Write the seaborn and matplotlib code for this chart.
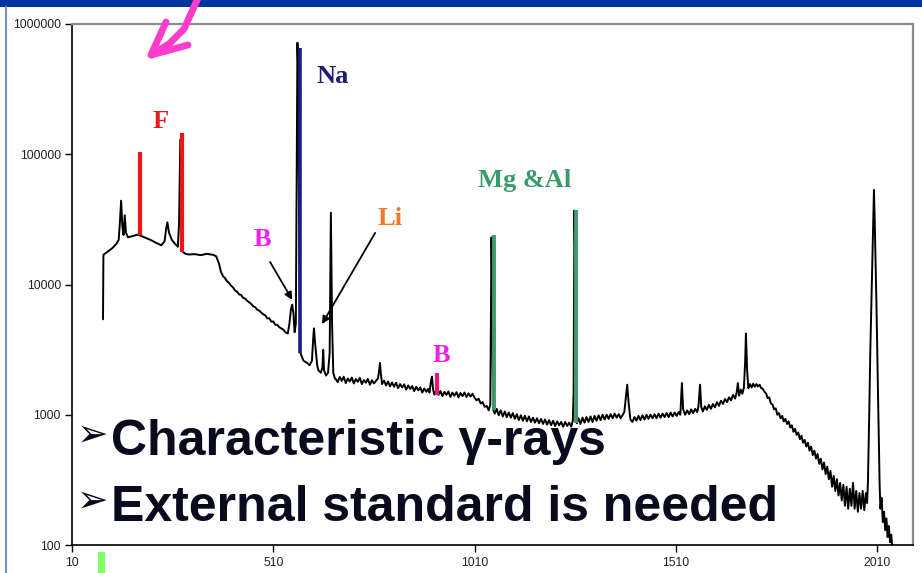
import matplotlib
matplotlib.use("Agg")
import matplotlib.pyplot as plt
import seaborn as sns
import pandas as pd
from matplotlib.lines import Line2D
from matplotlib.patches import Rectangle

# ---------------- data ----------------
# (channel, counts)
spectrum_points = [
    (87, 5400), (88, 16900), (100, 18000), (110, 19000), (120, 20500), (126, 22000),
    (129, 30000), (132, 44000), (135, 28000), (138, 24000), (141, 34000), (144, 25000),
    (149, 23000), (160, 23500), (174, 24200), (190, 23000), (205, 22000), (220, 20800),
    (232, 20000), (240, 21500), (244, 27000), (247, 30000), (251, 25000), (258, 22000),
    (266, 20500), (273, 19500), (276, 30000), (279, 129000), (282, 40000), (285, 17800),
    (292, 17200), (300, 17000), (315, 17100), (330, 16800), (345, 17200), (360, 16900),
    (368, 16500), (375, 14500), (380, 12500), (385, 11600), (390, 11200), (395, 10600),
    (400, 10300), (405, 9800), (410, 9500), (415, 9000), (420, 8800), (425, 8400),
    (430, 8300), (435, 7900), (440, 7800), (445, 7500), (450, 7300), (455, 7100),
    (460, 6800), (465, 6700), (470, 6400), (475, 6300), (480, 6100), (485, 5900),
    (490, 5800), (495, 5500), (500, 5500), (505, 5200), (510, 5200), (515, 4900),
    (520, 4900), (525, 4700), (530, 4600), (535, 4500), (540, 4300), (546, 4200),
    (550, 5000), (554, 6500), (557, 7000), (560, 6000), (563, 4300), (566, 5000),
    (568, 67000), (570, 718000), (572, 400000), (574, 30000), (577, 3000), (585, 2600),
    (594, 2500), (600, 2400), (606, 2600), (609, 3800), (611, 4600), (614, 3500),
    (619, 2400), (622, 2200), (628, 2100), (632, 2300), (634, 3150), (636, 2200),
    (641, 2000), (646, 2100), (650, 3000), (653, 35600), (656, 5000), (659, 2100),
    (663, 1900), (665, 1880), (670, 1780), (675, 1950), (680, 1820), (685, 1960),
    (690, 1750), (695, 1900), (700, 1800), (705, 1930), (710, 1740), (715, 1880),
    (720, 1790), (725, 1920), (730, 1720), (735, 1850), (740, 1760), (745, 1880),
    (750, 1700), (755, 1840), (760, 1740), (765, 1820), (770, 1900), (773, 2200),
    (775, 2500), (777, 2100), (780, 1720), (785, 1830), (790, 1680), (795, 1800),
    (800, 1650), (805, 1770), (810, 1640), (815, 1760), (820, 1600), (825, 1720),
    (830, 1620), (835, 1710), (840, 1560), (845, 1680), (850, 1580), (855, 1660),
    (860, 1520), (865, 1640), (870, 1540), (875, 1620), (880, 1480), (885, 1590),
    (890, 1500), (895, 1580), (898, 1480), (901, 1750), (904, 1960), (907, 1560),
    (910, 1430), (915, 1540), (920, 1420), (925, 1520), (930, 1390), (935, 1500),
    (940, 1420), (945, 1510), (950, 1370), (955, 1480), (960, 1400), (965, 1490),
    (970, 1360), (975, 1470), (980, 1390), (985, 1480), (990, 1370), (995, 1460),
    (1000, 1380), (1005, 1450), (1010, 1350), (1015, 1290), (1020, 1330), (1025, 1220),
    (1030, 1250), (1035, 1150), (1040, 1170), (1045, 1080), (1049, 1200), (1052, 23000),
    (1054, 8000), (1056, 1100), (1060, 1020), (1065, 1110), (1070, 990), (1075, 1080),
    (1080, 970), (1085, 1060), (1090, 960), (1095, 1040), (1100, 950), (1105, 1030),
    (1110, 930), (1115, 1010), (1120, 910), (1125, 990), (1130, 900), (1135, 980),
    (1140, 890), (1145, 970), (1150, 880), (1155, 950), (1160, 870), (1165, 940),
    (1170, 860), (1175, 930), (1180, 850), (1185, 920), (1190, 840), (1195, 910),
    (1200, 830), (1205, 900), (1210, 820), (1215, 890), (1220, 830), (1225, 880),
    (1230, 810), (1235, 880), (1240, 820), (1245, 870), (1250, 810), (1254, 900),
    (1256, 1500), (1258, 37000), (1261, 9000), (1264, 860), (1268, 940), (1273, 850),
    (1278, 950), (1283, 870), (1288, 960), (1293, 880), (1298, 970), (1303, 880),
    (1308, 980), (1313, 900), (1318, 990), (1323, 910), (1328, 1000), (1333, 920),
    (1338, 1000), (1343, 930), (1348, 1010), (1353, 940), (1358, 1020), (1363, 950),
    (1368, 1010), (1373, 940), (1378, 1000), (1382, 1050), (1385, 1300), (1389, 1700),
    (1393, 1200), (1397, 920), (1402, 880), (1407, 960), (1412, 900), (1417, 980),
    (1422, 910), (1427, 990), (1432, 920), (1437, 1000), (1442, 930), (1447, 1000),
    (1452, 940), (1457, 1010), (1462, 940), (1467, 1020), (1472, 950), (1477, 1020),
    (1482, 960), (1487, 1030), (1492, 960), (1497, 1040), (1502, 970), (1507, 1040),
    (1512, 980), (1517, 1050), (1521, 1000), (1523, 1300), (1525, 1750), (1528, 1100),
    (1533, 1000), (1538, 1080), (1543, 1010), (1548, 1100), (1553, 1030), (1558, 1110),
    (1563, 1050), (1566, 1150), (1568, 1400), (1570, 1700), (1573, 1150), (1577, 1060),
    (1582, 1160), (1587, 1090), (1592, 1190), (1597, 1110), (1602, 1210), (1607, 1140),
    (1612, 1250), (1617, 1170), (1622, 1280), (1627, 1210), (1632, 1320), (1637, 1250),
    (1642, 1360), (1647, 1290), (1652, 1420), (1657, 1330), (1661, 1480), (1664, 1750),
    (1667, 1400), (1671, 1560), (1675, 1450), (1679, 1620), (1682, 2500), (1684, 4200),
    (1687, 2200), (1690, 1600), (1694, 1720), (1698, 1620), (1702, 1730), (1706, 1640),
    (1710, 1720), (1714, 1650), (1718, 1700), (1722, 1600), (1726, 1580), (1730, 1500),
    (1734, 1460), (1738, 1340), (1742, 1360), (1746, 1220), (1750, 1200), (1754, 1100),
    (1758, 1120), (1762, 1000), (1766, 1030), (1770, 940), (1774, 980), (1778, 890),
    (1782, 930), (1786, 850), (1790, 890), (1794, 800), (1798, 830), (1802, 740),
    (1806, 780), (1810, 700), (1814, 730), (1818, 650), (1822, 690), (1826, 610),
    (1830, 640), (1834, 570), (1838, 610), (1842, 530), (1846, 570), (1850, 490),
    (1854, 530), (1858, 460), (1862, 500), (1866, 420), (1870, 460), (1874, 380),
    (1878, 430), (1882, 350), (1886, 400), (1890, 320), (1894, 370), (1898, 280),
    (1902, 340), (1906, 260), (1910, 320), (1914, 240), (1918, 300), (1922, 220),
    (1926, 290), (1930, 200), (1934, 280), (1938, 190), (1942, 270), (1946, 200),
    (1950, 300), (1954, 190), (1958, 260), (1962, 180), (1966, 250), (1970, 190),
    (1974, 260), (1978, 185), (1982, 250), (1985, 210), (1987, 300), (1990, 900),
    (1993, 3150), (1997, 11500), (2000, 30000), (2002, 53200), (2004, 30000), (2008, 7600),
    (2013, 960), (2016, 300), (2018, 190), (2021, 230), (2024, 150), (2027, 180),
    (2030, 130), (2033, 160), (2036, 115), (2039, 140), (2042, 105), (2045, 120),
    (2047, 100),
]
channel = [p[0] for p in spectrum_points]
counts = [p[1] for p in spectrum_points]

# coloured peak markers: channel, top and bottom counts
f_channel = [178, 283]
f_top = [104000, 145700]
f_bottom = [24000, 17800]
na_channel = [577]
na_top = [655000]
na_bottom = [2985]
b_channel = [917]
b_top = [2100]
b_bottom = [1420]
mgal_channel = [1058, 1262]
mgal_top = [24000, 37400]
mgal_bottom = [1090, 865]

x_ticks = [10, 510, 1010, 1510, 2010]
y_ticks = [100, 1000, 10000, 100000, 1000000]
y_tick_labels = ["100", "1000", "10000", "100000", "1000000"]

# ---------------- figure ----------------
sns.set_theme(style="white")
plt.rcParams["font.family"] = ["Liberation Sans", "DejaVu Sans"]

W, H = 922, 573
fig = plt.figure(figsize=(W / 100, H / 100), dpi=100)
fig.patch.set_facecolor("white")

def fx(px):
    return px / W

def fy(py):
    return (H - py) / H

ax = fig.add_axes([fx(72), fy(545), (913 - 72) / W, (545 - 24) / H])

df = pd.DataFrame({"channel": channel, "counts": counts})
sns.lineplot(data=df, x="channel", y="counts", ax=ax, color="black", linewidth=1.4,
             estimator=None, sort=False, zorder=3)

ax.set_yscale("log")
ax.set_xlim(10, 2099)
ax.set_ylim(100, 1000000)
ax.set_xticks(x_ticks)
ax.set_xticklabels([str(v) for v in x_ticks])
ax.set_yticks(y_ticks)
ax.set_yticklabels(y_tick_labels)
ax.minorticks_off()
ax.set_xlabel("")
ax.set_ylabel("")
ax.tick_params(axis="both", which="major", labelsize=8.8, labelcolor="#222222",
               length=5, width=1, color="black", direction="out", pad=3)
ax.tick_params(axis="x", bottom=True, pad=4)
ax.tick_params(axis="y", left=True)
ax.grid(False)

for side in ("left", "bottom"):
    ax.spines[side].set_color("black")
    ax.spines[side].set_linewidth(1.2)
for side in ("top", "right"):
    ax.spines[side].set_color("#8c8c8c")
    ax.spines[side].set_linewidth(1.6)

# coloured marker bars
ax.vlines(f_channel, f_bottom, f_top, colors="#ee1515", linewidth=3.0, zorder=4)
ax.vlines(na_channel, na_bottom, na_top, colors="#1e1e7c", linewidth=2.6, zorder=4)
ax.vlines(b_channel, b_bottom, b_top, colors="#f0147a", linewidth=3.0, zorder=4)
ax.vlines(mgal_channel, mgal_bottom, mgal_top, colors="#3c9a6e", linewidth=2.8, zorder=4)

# element labels
serif = ["Liberation Serif", "DejaVu Serif"]
lab = dict(fontsize=19, fontweight="bold", family=serif, ha="center", va="center", zorder=6)
ax.text(229, 177000, "F", color="#e61a1a", **lab)
ax.text(658, 392000, "Na", color="#1c1c78", **lab)
ax.text(482, 21980, "B", color="#f01ef0", **lab)
ax.text(800, 32400, "Li", color="#f07828", **lab)
ax.text(927, 2830, "B", color="#f01ee6", **lab)
ax.text(1135, 62400, "Mg &Al", color="#3a9a6a", **lab)

arrow = dict(arrowstyle="-|>", color="black", lw=1.3, mutation_scale=11,
             shrinkA=0, shrinkB=0)
ax.annotate("", xy=(557, 7620), xytext=(502, 14900), arrowprops=arrow, zorder=6)
ax.annotate("", xy=(631, 4970), xytext=(763, 24900), arrowprops=arrow, zorder=6)

# big bullet text
big = ["Liberation Sans", "DejaVu Sans"]
txt_color = "#0a0a1e"
for ypx, s in ((455, "Characteristic \u03b3-rays"), (521, "External standard is needed")):
    fig.text(fx(108), fy(ypx - 19), "\u27a2", fontsize=27, color=txt_color,
             family=["DejaVu Sans"], ha="right", va="center", zorder=10)
    fig.text(fx(111), fy(ypx), s, fontsize=36, fontweight="bold", color=txt_color,
             family=big, ha="left", va="baseline", zorder=10)

# slide decorations
fig.patches.append(Rectangle((0, fy(7)), 1, 7 / H, transform=fig.transFigure,
                             facecolor="#00339c", edgecolor="none", zorder=0))
fig.lines.append(Line2D([fx(6), fx(6)], [0, fy(7)], transform=fig.transFigure,
                        color="#7292d4", linewidth=1.5))
fig.patches.append(Rectangle((fx(98), 0), 7 / W, 21 / H, transform=fig.transFigure,
                             facecolor="#80ff66", edgecolor="none", zorder=0))
pink = "#ff3ccc"
fig.lines.append(Line2D([fx(198), fx(184), fx(170), fx(152)],
                        [fy(-2), fy(29), fy(43), fy(55)],
                        transform=fig.transFigure, color=pink, linewidth=5,
                        solid_capstyle="round", solid_joinstyle="round", zorder=8))
fig.lines.append(Line2D([fx(166), fx(151), fx(188)], [fy(22), fy(55), fy(45)],
                        transform=fig.transFigure, color=pink, linewidth=5,
                        solid_capstyle="round", solid_joinstyle="round", zorder=8))

fig.savefig("out.png", dpi=100, facecolor="white")
